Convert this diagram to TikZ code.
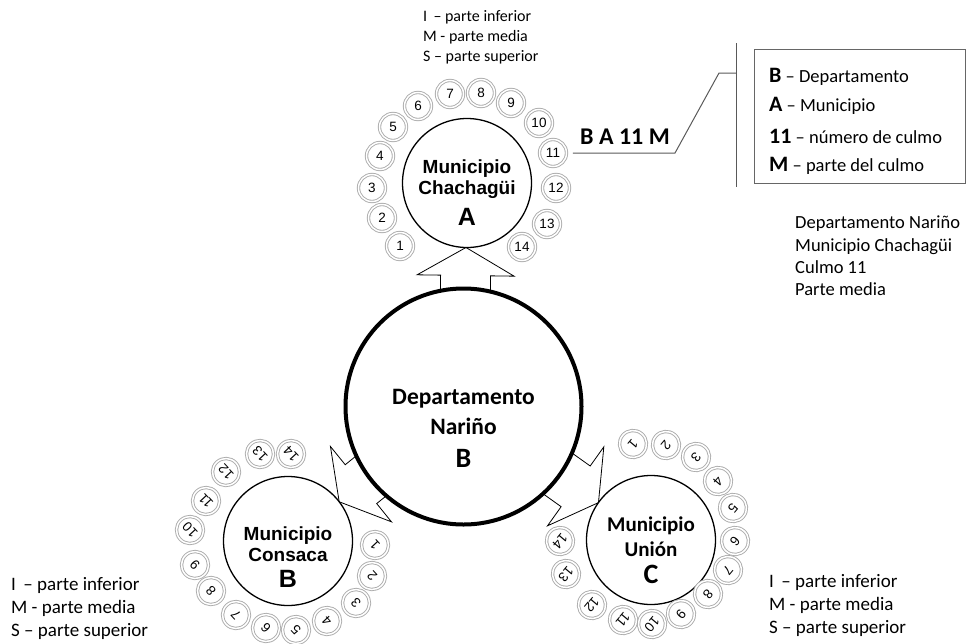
\documentclass[tikz,border=0pt]{standalone}
\usepackage{fontspec}
\setmainfont{Carlito}
\newfontfamily\arialf{Liberation Sans}
\usetikzlibrary{calc,backgrounds}
\begin{document}
\begin{tikzpicture}[x=1pt,y=-1pt,
  smallc/.style={circle, draw=black!33, double=white, double distance=1.5pt, line width=0.9pt,
    minimum size=27pt, inner sep=0pt, font=\arialf\fontsize{13.5}{13.5}\selectfont},
  muni/.style={circle, draw=black, line width=1.3pt, fill=white, minimum size=129pt, inner sep=0pt},
  dept/.style={circle, draw=black, line width=4pt, fill=white, minimum size=236pt, inner sep=0pt},
  blockarrow/.style={draw=black, line width=0.8pt, fill=white, line join=miter},
  leader/.style={draw=black!65, line width=1pt},
  arialtxt/.style={align=center, inner sep=0pt, font=\arialf\bfseries\fontsize{19}{21}\selectfont},
  arialletter/.style={inner sep=0pt, font=\arialf\bfseries\fontsize{25}{25}\selectfont},
  legtxt/.style={align=left, anchor=west, inner sep=0pt}
]
\useasboundingbox (0,0) rectangle (967,643);

% main circles
\node[dept] (D) at (463.5,406.5) {};
\node[muni] (A) at (467,183) {};
\node[muni] (B) at (288,541) {};
\node[muni] (C) at (651,540) {};

% block arrows
\coordinate (tA) at ($(A.center)!64.5pt!(D.center)$);
\coordinate (tB) at ($(B.center)!64.5pt!(D.center)$);
\coordinate (tC) at ($(C.center)!64.5pt!(D.center)$);
\begin{scope}[on background layer]
  \begin{scope}[shift={(tA)}, rotate=89.2]
    \draw[blockarrow] (0,0) -- (-28,48.5) -- (-28,25) -- (-80,25) -- (-80,-25) -- (-28,-25) -- (-28,-48.5) -- cycle;
  \end{scope}
  \begin{scope}[shift={(tB)}, rotate=219]
    \draw[blockarrow] (0,0) -- (-28,48.5) -- (-28,25) -- (-80,25) -- (-80,-25) -- (-28,-25) -- (-28,-48.5) -- cycle;
  \end{scope}
  \begin{scope}[shift={(tC)}, rotate=324.5]
    \draw[blockarrow] (0,0) -- (-28,48.5) -- (-28,25) -- (-90,25) -- (-90,-25) -- (-28,-25) -- (-28,-48.5) -- cycle;
  \end{scope}
\end{scope}

% texts in circles
\node[align=center, inner sep=0pt, font=\bfseries\fontsize{23.5}{30}\selectfont] (Dtxt) at (463.5,412) {Departamento\\Nariño};
\node[inner sep=0pt, font=\bfseries\fontsize{28}{28}\selectfont] (Dlet) at (463.5,458) {B};

\node[arialtxt] (Atxt) at (467,179) {Municipio\\Chachagüi};
\node[arialletter] (Alet) at (467,217) {A};

\node[arialtxt] (Btxt) at (288,544) {Municipio\\Consaca};
\node[arialletter] (Blet) at (288,579) {B};

\node[align=center, inner sep=0pt, font=\bfseries\fontsize{21}{25}\selectfont] (Ctxt) at (651,537) {Municipio\\Unión};
\node[inner sep=0pt, font=\bfseries\fontsize{28}{28}\selectfont] (Clet) at (651,574) {C};

% small circles
\foreach \n/\x/\y in {1/400/246, 2/382/218, 3/372/188, 4/380/156, 5/393/127, 6/418/106, 7/450/94,
  8/481/93, 9/511/103, 10/539/123, 11/553/153, 12/556/188, 13/547/224, 14/522/247}
  \node[smallc] (a\n) at (\x,\y) {\n};

\foreach \n/\x/\y in {1/375/545, 2/372/576, 3/356/603, 4/327/621, 5/296/630, 6/266/628, 7/236/615,
  8/211/591, 9/195/565, 10/190/530, 11/206/501, 12/226/472, 13/260/454, 14/291/454}
  \node[smallc, rotate=133] (b\n) at (\x,\y) {\n};

\foreach \n/\x/\y in {1/633/444, 2/666/445, 3/696/457, 4/718/481, 5/733/508, 6/735/541, 7/728/570,
  8/708/594, 9/681/614, 10/652/624, 11/623/620, 12/592/605, 13/566/574, 14/560/541}
  \node[smallc, rotate=-130] (c\n) at (\x,\y) {\n};

% code label and leader
\node[inner sep=0pt, font=\bfseries\fontsize{24}{24}\selectfont] (code) at (625,137) {B A 11 M};
\coordinate (l0) at ($(a11.east)+(6,0)$);
\coordinate (l1) at (675,153);
\coordinate (l2) at (719,73);
\coordinate (l3) at (736,73);
\coordinate (vt) at (736,43);
\coordinate (vb) at (736,187);
\draw[leader] (l0) -- (l1) -- (l2) -- (l3);
\draw[leader] (vt) -- (vb);

% legend box
\node[draw=black!60, line width=1pt, minimum width=211pt, minimum height=134pt, inner sep=0pt] (legend) at (859.5,116) {};
\node[legtxt, font=\fontsize{18.5}{18.5}\selectfont] (lg1) at (769,77) {{\bfseries\fontsize{22}{22}\selectfont B} -- Departamento};
\node[legtxt, font=\fontsize{18.5}{18.5}\selectfont] (lg2) at (769,106) {{\bfseries\fontsize{22}{22}\selectfont A} -- Municipio};
\node[legtxt, font=\fontsize{18.5}{18.5}\selectfont] (lg3) at (769,136) {{\bfseries\fontsize{22}{22}\selectfont 11} -- número de culmo};
\node[legtxt, font=\fontsize{18.5}{18.5}\selectfont] (lg4) at (769,166) {{\bfseries\fontsize{22}{22}\selectfont M} -- parte del culmo};

% example text
\node[legtxt, font=\fontsize{18.5}{22.3}\selectfont] (ex) at (795,256) {Departamento Nariño\\Municipio Chachagüi\\Culmo 11\\Parte media};

% part legends
\node[legtxt, font=\fontsize{16}{20}\selectfont] (ptop) at (423,37) {I \,-- parte inferior\\M - parte media\\S -- parte superior};
\node[legtxt, font=\fontsize{19}{23}\selectfont] (pbl) at (11,608) {I \,-- parte inferior\\M - parte media\\S -- parte superior};
\node[legtxt, font=\fontsize{19}{23}\selectfont] (pbr) at (769,605.5) {I \,-- parte inferior\\M - parte media\\S -- parte superior};
\end{tikzpicture}
\end{document}
